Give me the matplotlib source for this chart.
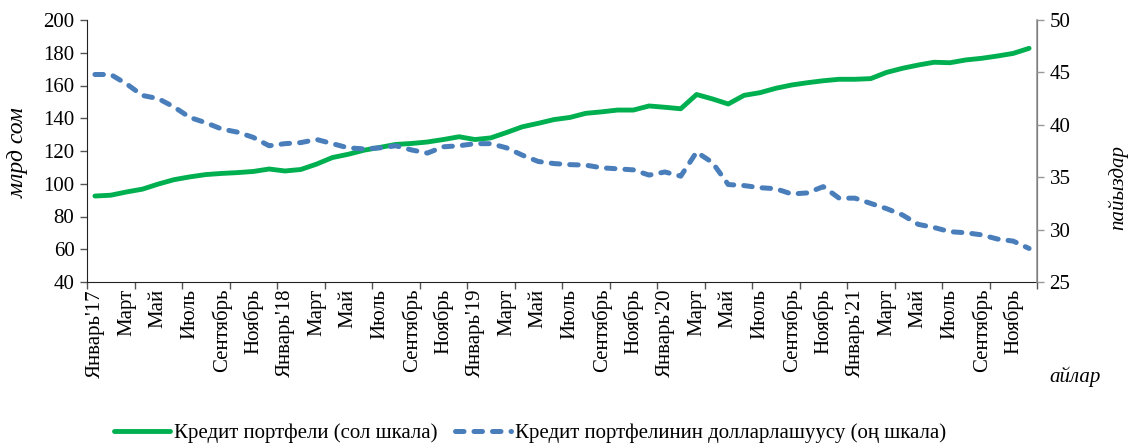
import matplotlib
matplotlib.use("Agg")
import matplotlib.pyplot as plt
import numpy as np

# Monthly data Jan 2017 .. Dec 2021
credit_portfolio = [
    92.5, 93.0, 95.0, 96.7, 99.8, 102.5, 104.2, 105.6, 106.3, 106.8, 107.5, 109.0,
    107.8, 108.7, 112.0, 116.0, 118.0, 120.5, 122.2, 124.0, 124.6, 125.5, 127.0, 128.7,
    127.0, 128.0, 131.3, 134.8, 136.9, 139.2, 140.5, 143.0, 143.9, 145.0, 145.0, 147.5,
    146.7, 145.8, 154.5, 151.8, 148.7, 154.0, 155.6, 158.3, 160.3, 161.7, 162.9, 163.8,
    163.8, 164.2, 168.0, 170.5, 172.5, 174.2, 173.9, 175.6, 176.6, 178.0, 179.6, 182.7,
]
dollarization = [
    44.8, 44.8, 43.9, 42.8, 42.5, 41.7, 40.7, 40.2, 39.6, 39.3, 38.8, 38.0,
    38.2, 38.3, 38.6, 38.2, 37.8, 37.7, 37.8, 38.0, 37.6, 37.3, 37.9, 38.0,
    38.2, 38.2, 37.8, 37.1, 36.5, 36.3, 36.2, 36.15, 35.9, 35.8, 35.7, 35.2,
    35.5, 35.1, 37.4, 36.4, 34.3, 34.2, 34.0, 33.9, 33.4, 33.5, 34.1, 33.0,
    33.0, 32.5, 32.0, 31.4, 30.5, 30.2, 29.8, 29.7, 29.5, 29.1, 28.9, 28.2,
]
tick_labels = [
    "Январь'17", "Март", "Май", "Июль", "Сентябрь", "Ноябрь",
    "Январь'18", "Март", "Май", "Июль", "Сентябрь", "Ноябрь",
    "Январь'19", "Март", "Май", "Июль", "Сентябрь", "Ноябрь",
    "Январь'20", "Март", "Май", "Июль", "Сентябрь", "Ноябрь",
    "Январь'21", "Март", "Май", "Июль", "Сентябрь", "Ноябрь",
]
label_green = "Кредит портфели (сол шкала)"
label_blue = "Кредит портфелинин долларлашуусу (оң шкала)"

plt.rcParams['font.family'] = ['Liberation Serif', 'DejaVu Serif']
FS = 15
GREEN = "#00B050"
BLUE = "#4A7EBB"

fig = plt.figure(figsize=(11.3, 4.45), dpi=100)
ax = fig.add_axes([87/1130, 1-282/445, (1037-87)/1130, (282-20)/445])
ax2 = ax.twinx()

x = np.arange(len(credit_portfolio))
l1, = ax.plot(x, credit_portfolio, color=GREEN, lw=3.5, solid_capstyle='round',
              solid_joinstyle='round', zorder=3)
xb = np.arange(len(dollarization))
l2, = ax2.plot(xb, dollarization, color=BLUE, lw=3.6, dash_capstyle='round',
               dashes=(1.7, 2.0))

ax.set_xlim(-0.5, 59.5)
ax.set_ylim(40, 200)
ax.set_yticks(np.arange(40, 201, 20))
ax2.set_ylim(25, 50)
ax2.set_yticks(np.arange(25, 51, 5))

# category axis: tick marks at boundaries every 3 months, labels every 2 months
ax.set_xticks(np.arange(-0.5, 60, 3))
ax.set_xticklabels([])
ax.set_xticks(np.arange(0, 60, 2), minor=True)
ax.set_xticklabels(tick_labels, minor=True, rotation=90, fontsize=FS)
ax.tick_params(axis='x', which='minor', length=0, pad=5)
ax.tick_params(axis='x', which='major', direction='out', length=5, width=1, color='#555555')

ax.tick_params(axis='y', labelsize=FS, direction='out', length=5, width=1, color='#555555', pad=4)
ax2.tick_params(axis='y', labelsize=FS, direction='out', length=5, width=1, color='#999999', pad=4)

for a in (ax, ax2):
    a.spines['top'].set_visible(False)
ax.spines['left'].set_color('#222222')
ax.spines['bottom'].set_color('#222222')
ax2.spines['left'].set_visible(False)
ax2.spines['bottom'].set_visible(False)
ax2.spines['right'].set_color('#999999')
ax2.spines['right'].set_linewidth(1.2)

fig.text(18/1130, 1-153/445, "млрд сом", rotation=90, ha='center', va='center',
         fontsize=17, style='italic')
fig.text(1118/1130, 1-188/445, "пайыздар", rotation=90, ha='center', va='center',
         fontsize=FS, style='italic')
fig.text(1075/1130, 1-377/445, "айлар", ha='center', va='center',
         fontsize=FS, style='italic')

fig.legend([l1, l2], [label_green, label_blue], loc='center', ncol=2,
           bbox_to_anchor=(530/1130, 1-433/445), frameon=False, fontsize=FS,
           handlelength=2.7, handletextpad=0.2, columnspacing=0.8)

fig.savefig("out.png", dpi=100)
